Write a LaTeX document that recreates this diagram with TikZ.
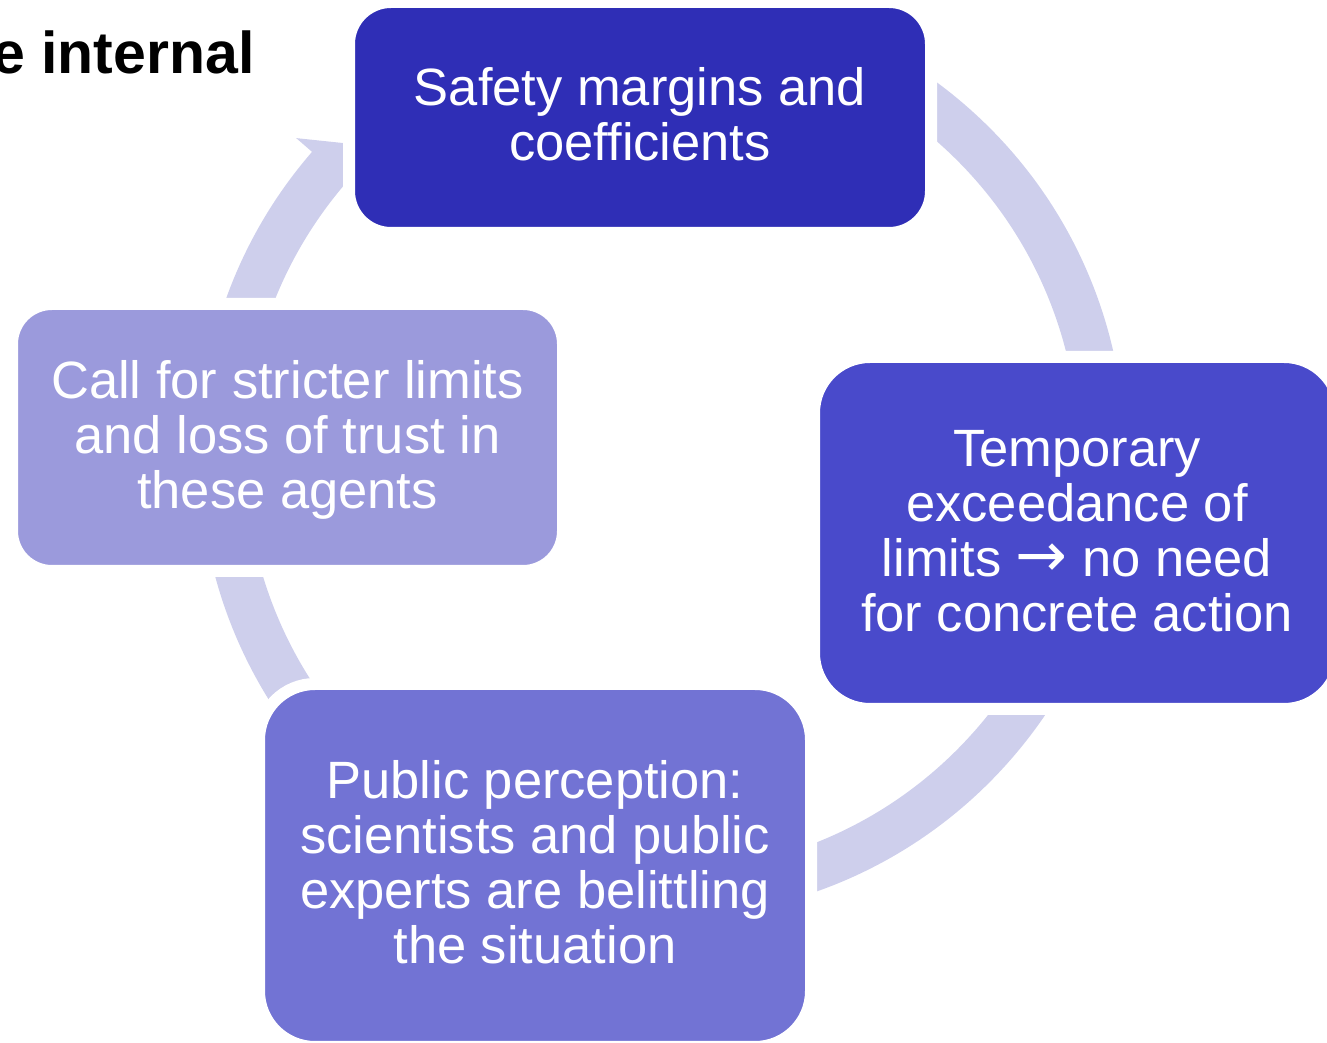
\documentclass[tikz,border=0pt]{standalone}
\usepackage{fontspec}
\setmainfont{Liberation Sans}
\newfontfamily\dejavu{DejaVu Sans}
\definecolor{cTop}{RGB}{47,46,182}
\definecolor{cRight}{RGB}{73,74,203}
\definecolor{cBottom}{RGB}{114,115,212}
\definecolor{cLeft}{RGB}{155,154,220}
\definecolor{cRing}{RGB}{206,207,236}
\newcommand\mytop{\rule{0pt}{44pt}}
\newcommand\mybot{\rule[-12pt]{0pt}{12pt}}
\begin{document}
\begin{tikzpicture}[x=1pt,y=1pt,
  box/.style={rounded corners=#1, draw=white, line width=12pt, text=white,
    align=center, font=\fontsize{52.5}{55}\selectfont, inner sep=0pt},
  ring/.style={draw=cRing, line width=46pt},
  head/.style={fill=cRing}]
\useasboundingbox (0,0) rectangle (1327,1043);
\clip (0,0) rectangle (1327,1043);
% cycle ring
\coordinate (c) at (662,588);
\begin{scope}[shift={(c)}]
  \draw[ring] (139:440) arc[start angle=139, end angle=480, radius=440];
  \coordinate (hbo) at (139.1:484);
  \coordinate (htip) at (135:440);
  \coordinate (hbi) at (139.1:396);
  \fill[head] (hbo) -- (htip) -- (hbi) -- cycle;
\end{scope}
% boxes
\node[box=42, fill=cTop, minimum width=582, minimum height=231] (top) at (640,925.5)
  {\mytop Safety margins and\\coefficients\mybot};
\node[box=56, fill=cRight, minimum width=526, minimum height=352] (right) at (1077,510)
  {\mytop Temporary\\exceedance of\\limits {\dejavu\fontsize{62}{55}\selectfont →} no need\\for concrete action\mybot};
\node[box=56, fill=cBottom, minimum width=552, minimum height=363] (bottom) at (535,177.5)
  {\mytop Public perception:\\scientists and public\\experts are belittling\\the situation\mybot};
\node[box=40, fill=cLeft, minimum width=551, minimum height=267] (left) at (287.5,605.5)
  {\mytop Call for stricter limits\\and loss of trust in\\these agents\mybot};
% cut-off title
\node[anchor=base west, inner sep=0pt, font=\bfseries\fontsize{59}{60}\selectfont] (title) at (-8,969) {e internal};
\end{tikzpicture}
\end{document}
